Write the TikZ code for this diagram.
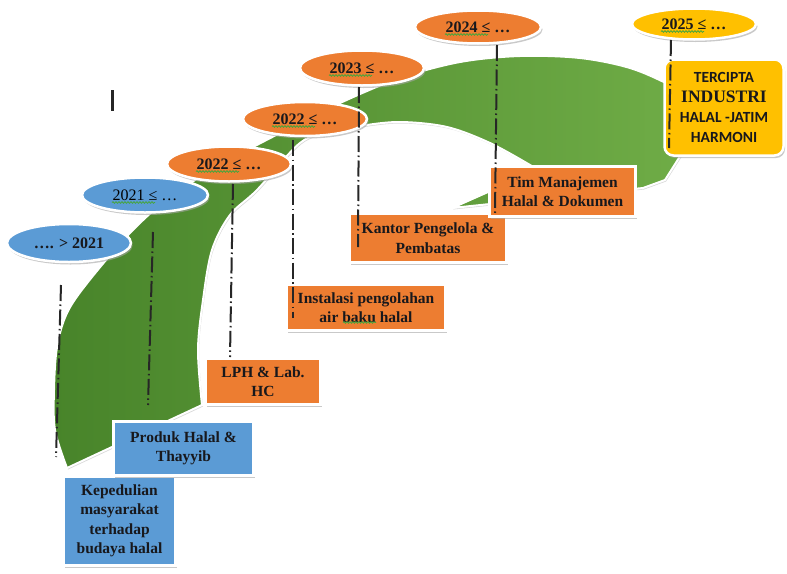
\documentclass[tikz,border=0pt]{standalone}
\usepackage{fontspec}
\setmainfont{Liberation Serif}
\newfontfamily\calib{Carlito}
\usetikzlibrary{shapes.geometric,shadows,decorations.pathmorphing,calc}
\definecolor{bluef}{RGB}{91,155,213}
\definecolor{orangef}{RGB}{237,125,49}
\definecolor{yellowf}{RGB}{255,192,0}
\definecolor{greenL}{RGB}{72,132,42}
\definecolor{greenR}{RGB}{112,173,71}
\definecolor{txt}{RGB}{24,24,28}
\definecolor{squig}{RGB}{70,165,60}
\tikzset{
  shad/.style={drop shadow={shadow xshift=1.5pt,shadow yshift=-2.5pt,fill=black!35,opacity=0.6}},
  yearel/.style={ellipse, draw=white, line width=2.5pt, inner sep=0pt, shad,
     font=\bfseries\fontsize{16}{18}\selectfont, text=txt},
  boxn/.style={rectangle, draw=white, line width=2.5pt, inner sep=2pt, shad, align=center,
     font=\bfseries\fontsize{15.5}{19.5}\selectfont, text=txt},
  dd/.style={line width=2pt, dash pattern=on 16pt off 3.5pt on 1.5pt off 3.5pt, color=black!85},
  squiggle/.style={draw=squig, line width=0.8pt, decorate,
     decoration={snake, amplitude=0.8pt, segment length=3pt}}
}
\begin{document}
\begin{tikzpicture}[x=1pt,y=-1pt]
\useasboundingbox[fill=white] (0,0) rectangle (787,573);

% green arc band
\shadedraw[left color=greenL, right color=greenR, draw=white, line width=2pt,
  drop shadow={shadow xshift=1pt,shadow yshift=-1.5pt,fill=black!25,opacity=0.6}]
  plot[smooth, tension=0.55] coordinates {(67,468) (55,430) (54,390) (57,347) (67,313) (88,282) (130,233) (170,197) (220,165) (280,133) (340,103) (400,78) (460,62) (520,56) (580,58) (630,68) (670,85) (700,102)}
  -- (684,150) -- (665,180) -- (643,188) -- (452,208) -- (488,192) -- (530,165)
  -- plot[smooth, tension=0.55] coordinates {(530,165) (490,143) (447,127) (400,122) (360,126) (330,132) (300,143) (257,190) (230,215) (212,250) (203,300) (198,350) (202,405)}
  -- cycle;

% small mark
\coordinate (ma) at (112,90);
\coordinate (mb) at (112,111);
\draw[line width=3pt, black!85] (ma) -- (mb);

% boxes
\node[boxn, fill=bluef, minimum width=112pt, minimum height=89pt] (kep) at (119.5,521)
  {Kepedulian\\masyarakat\\terhadap\\budaya halal};
\node[boxn, fill=bluef, minimum width=140pt, minimum height=54pt] (prod) at (183.5,448.5)
  {Produk Halal \&\\Thayyib};
\node[boxn, fill=orangef, minimum width=115pt, minimum height=46pt] (lph) at (263,381.5)
  {LPH \& Lab.\\HC};
\node[boxn, fill=orangef, minimum width=159pt, minimum height=46pt] (inst) at (366,307.5)
  {Instalasi pengolahan\\air baku halal};
\node[boxn, fill=orangef, minimum width=157pt, minimum height=49pt] (kant) at (428,238)
  {Kantor Pengelola \&\\Pembatas};
\node[boxn, fill=orangef, minimum width=146pt, minimum height=50pt] (tim) at (562.5,191.5)
  {Tim Manajemen\\Halal \& Dokumen};
\node[boxn, fill=yellowf, rounded corners=9pt, minimum width=119pt, minimum height=96pt,
  font=\bfseries\fontsize{15.5}{20}\selectfont] (terc) at (724,107.5)
  {{\calib TERCIPTA}\\{\fontsize{17.5}{20}\selectfont INDUSTRI}\\{\calib HALAL -JATIM}\\{\calib HARMONI}};

% year ellipses
\node[yearel, fill=bluef, minimum width=124pt, minimum height=38pt] (e1) at (69,243) {…. > 2021};
\node[yearel, fill=bluef, minimum width=126pt, minimum height=35pt,
  font=\fontsize{16}{18}\selectfont, text={RGB:red,23;green,45;blue,80}] (e2) at (145,195) {2021 ≤ …};
\node[yearel, fill=orangef, minimum width=124pt, minimum height=35pt] (e3) at (229,164) {2022 ≤ …};
\node[yearel, fill=orangef, minimum width=124pt, minimum height=34pt] (e4) at (305,119) {2022 ≤ …};
\node[yearel, fill=orangef, minimum width=124pt, minimum height=35pt] (e5) at (362,68) {2023 ≤ …};
\node[yearel, fill=orangef, minimum width=126pt, minimum height=33pt] (e6) at (478,27) {2024 ≤ …};
\node[yearel, fill=yellowf, minimum width=124pt, minimum height=31pt] (e7) at (694,24) {2025 ≤ …};

% spell-check squiggles
\foreach \e in {e2,e3,e4,e5,e6,e7}{
  \draw[squiggle] ($(\e)+(-33,7.5)$) -- ($(\e)+(10,7.5)$);
}
\draw[squiggle] ($(inst)+(-23,15)$) -- ($(inst)+(10,15)$);

% dash-dot connectors
\coordinate (l1a) at (61,285);  \coordinate (l1b) at (56,457);
\coordinate (l2a) at (153,232); \coordinate (l2b) at (148,405);
\coordinate (l3a) at (233,184); \coordinate (l3b) at (230,357);
\coordinate (l4a) at (293,140); \coordinate (l4b) at (293,318);
\coordinate (l5a) at (359,87);  \coordinate (l5b) at (358,247);
\coordinate (l6a) at (497,45);  \coordinate (l6b) at (495,213);
\coordinate (l7a) at (671,40);  \coordinate (l7b) at (669,148);
\foreach \i in {1,...,7}{
  \draw[dd] (l\i a) -- (l\i b);
}
\end{tikzpicture}
\end{document}
